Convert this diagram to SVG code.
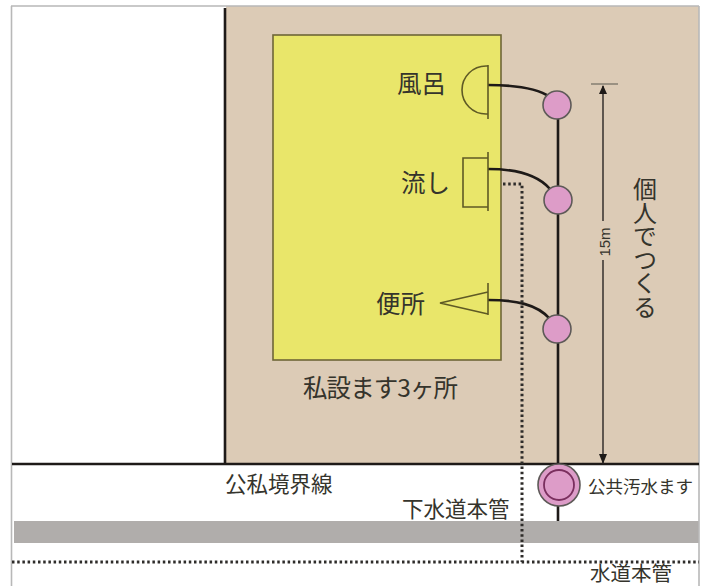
<svg xmlns="http://www.w3.org/2000/svg" width="703" height="586" viewBox="0 0 703 586">
<style>
text{font-family:"Noto Sans CJK JP","Liberation Sans",sans-serif;fill:#35342c}
.l{font-size:24.500px}.m{font-size:21.500px}.s{font-size:17.500px}
.fix{fill:none;stroke:#5f5a25;stroke-width:1.6}
.pipe{fill:none;stroke:#1e1a18;stroke-width:2.6}
.dot{fill:none;stroke:#2e2c2a;stroke-width:3;stroke-dasharray:2.5 2.7}
.mh{fill:#dd9cc8;stroke:#5e5a58;stroke-width:1.6}
</style>
<rect width="703" height="586" fill="#fff"/>
<rect x="226" y="6" width="473" height="458" fill="#dccbb6"/>
<rect x="14" y="521" width="685" height="22" fill="#b0adab"/>
<path d="M11 6H699M11.500 6V586M699 6V586" fill="none" stroke="#b8b8b8" stroke-width="1.600"/>
<g id="site"><rect x="273" y="35" width="228" height="325" fill="#e9e66a" stroke="#6e6638" stroke-width="1.600"/></g>
<g id="connectors">
<path class="pipe" d="M225 8V464M12 464H699"/>
<path class="pipe" d="M558 105V508M558 505V521"/>
<path class="pipe" d="M488 85C515 85 537 88 550 97M488 169C515 169 537 174 550 189M488 300C515 300 537 304 550 319"/>
<path class="dot" d="M503 184H522V562M12 562H699"/>
<path d="M603 86V221M603 260V464" stroke="#2a2624" stroke-width="1.400" fill="none"/>
<path d="M591 84H618" stroke="#6e6a60" stroke-width="1.200" fill="none"/>
<path d="M599 94L603 85L607 94ZM599 454L603 464L607 454Z" fill="#1e1a18"/>
</g>
<g id="bath"><path class="fix" d="M488 65V119M488 66H486A24 24 0 0 0 486 114H488"/><text class="l" x="397" y="93">風呂</text></g>
<g id="sink"><path class="fix" d="M488 152V211M488 158H463V207H488"/><text class="l" x="401" y="192">流し</text></g>
<g id="toilet"><path class="fix" d="M488 283V315M488 292L440 303L488 314"/><text class="l" x="376" y="313">便所</text></g>
<g id="m1"><circle class="mh" cx="557" cy="105" r="14"/></g>
<g id="m2"><circle class="mh" cx="558" cy="200" r="14"/></g>
<g id="m3"><circle class="mh" cx="557" cy="329" r="14"/></g>
<g id="public"><circle class="mh" cx="559" cy="485" r="21"/><circle cx="559" cy="485" r="15" fill="none" stroke="#7a2f5e" stroke-width="1.800"/><text class="s" x="588" y="493">公共汚水ます</text></g>
<text class="l" x="303" y="397" textLength="155">私設ます3ヶ所</text>
<text class="m" x="225" y="492">公私境界線</text>
<text class="m" x="402" y="517">下水道本管</text>
<text x="590" y="581" style="font-size:20.500px">水道本管</text>
<text x="604" y="242" transform="rotate(-90 604 242)" text-anchor="middle" dominant-baseline="central" style="font-size:15px;font-family:'Liberation Sans',sans-serif" textLength="29" lengthAdjust="spacingAndGlyphs">15m</text>
<text x="645" y="177" writing-mode="vertical-rl" style="font-size:24px;letter-spacing:-0.500px">個人でつくる</text>
</svg>
